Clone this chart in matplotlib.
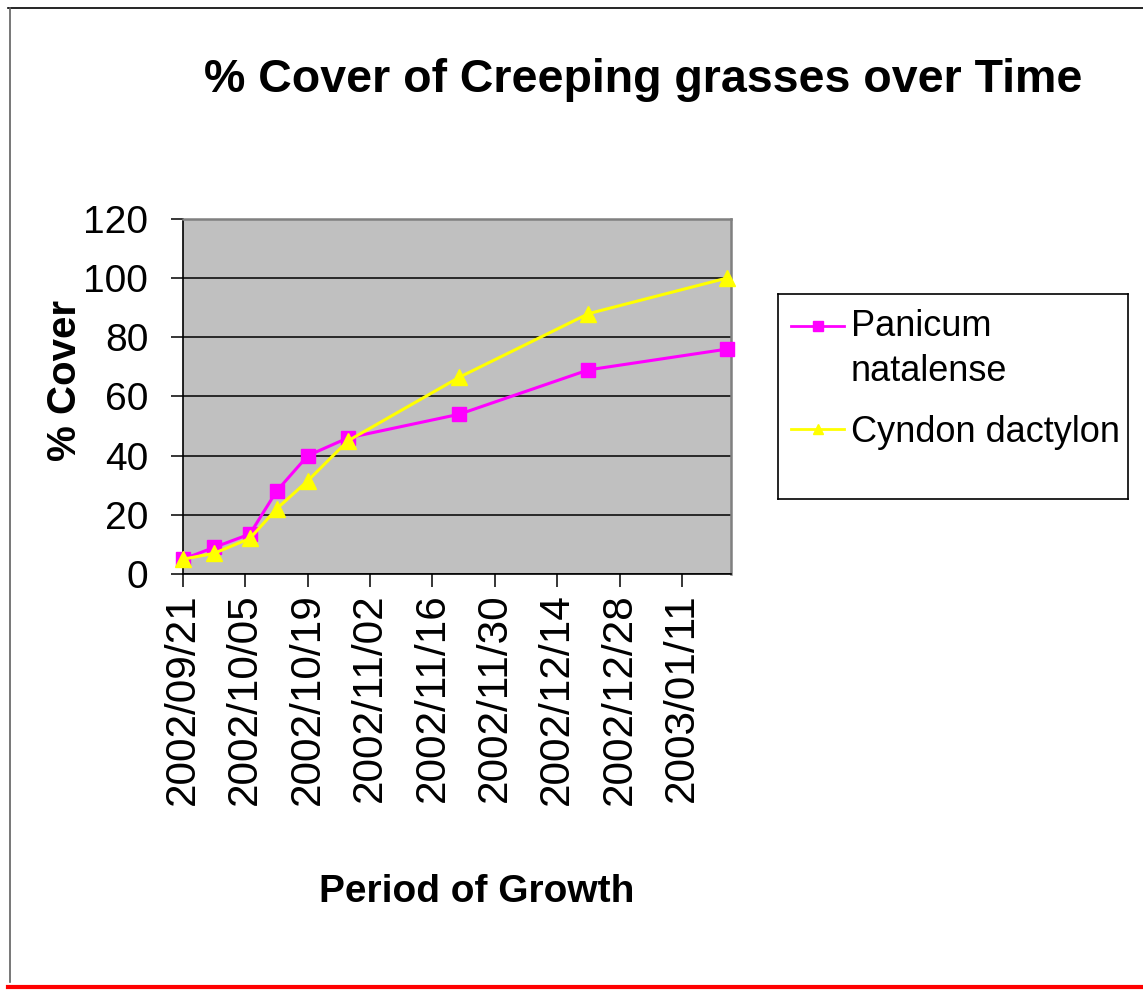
import datetime as dt

import matplotlib
matplotlib.use("Agg")
import matplotlib.pyplot as plt
import matplotlib.dates as mdates
from matplotlib.lines import Line2D

# sampling dates and % cover for the two grasses
dates = ["2002/09/21", "2002/09/28", "2002/10/06", "2002/10/12", "2002/10/19",
         "2002/10/28", "2002/11/22", "2002/12/21", "2003/01/21"]
panicum = [5, 9, 13.5, 28, 40, 46, 54, 69, 76]
cyndon = [5, 7, 12, 22, 31.5, 45, 66.5, 88, 100]

tick_dates = ["2002/09/21", "2002/10/05", "2002/10/19", "2002/11/02", "2002/11/16",
              "2002/11/30", "2002/12/14", "2002/12/28", "2003/01/11"]
x_end = "2003/01/22"
y_ticks = [0, 20, 40, 60, 80, 100, 120]

series = [
    ("Panicum\nnatalense", panicum, "#FF00FF", "s", 10.5),
    ("Cyndon dactylon", cyndon, "#FFFF00", "^", 11),
]


def to_date(s):
    return dt.datetime.strptime(s, "%Y/%m/%d")


plt.rcParams["font.family"] = ["Liberation Sans", "DejaVu Sans"]

W, H = 1143, 996
fig = plt.figure(figsize=(W / 100, H / 100), dpi=100)
ax = fig.add_axes([183 / W, 1 - 574 / H, 548 / W, 355 / H])
ax.set_facecolor("#C0C0C0")

x = [to_date(d) for d in dates]
for label, vals, color, marker, ms in series:
    ax.plot(x, vals, color=color, lw=2.2, marker=marker, ms=ms,
            mec=color, mfc=color, zorder=3, clip_on=False)

ax.set_xlim(to_date(tick_dates[0]), to_date(x_end))
ax.set_ylim(0, 120)
ax.set_yticks(y_ticks)
ax.set_xticks([to_date(d) for d in tick_dates])
ax.xaxis.set_major_formatter(mdates.DateFormatter("%Y/%m/%d"))

ax.grid(axis="y", color="black", lw=1.1)
ax.set_axisbelow(True)
for side in ("left", "bottom"):
    ax.spines[side].set_color("black")
    ax.spines[side].set_linewidth(1.2)
for side in ("top", "right"):
    ax.spines[side].set_color("#808080")
    ax.spines[side].set_linewidth(1.8)

ax.tick_params(axis="y", length=9, width=1.1, pad=16, labelsize=28)
ax.tick_params(axis="x", length=9, width=1.1, pad=5, labelsize=30.5,
               labelrotation=90)

ax.set_ylabel("% Cover", fontsize=29, fontweight="bold")
ax.yaxis.set_label_coords(-0.18, 0.546)
ax.set_xlabel("Period of Growth", fontsize=28, fontweight="bold")
ax.xaxis.set_label_coords(0.5365, -0.846)

fig.text(643 / W, 1 - 92 / H, "% Cover of Creeping grasses over Time",
         fontsize=33.5, fontweight="bold", ha="center", va="baseline")

# legend box drawn in its own pixel-scaled axes
lax = fig.add_axes([778 / W, 1 - 499 / H, 350 / W, 205 / H])
lax.set_xlim(0, 350)
lax.set_ylim(205, 0)
lax.set_xticks([])
lax.set_yticks([])
for sp in lax.spines.values():
    sp.set_color("black")
    sp.set_linewidth(1.2)
for (label, vals, color, marker, ms), hy, ty in zip(series, [32, 135], [42, 148]):
    lax.plot([13, 66], [hy, hy], color=color, lw=2.0)
    lax.plot([39.5], [hy], color=color, marker=marker, ms=ms * 0.62, mec=color,
             mfc=color)
    lines = label.split("\n")
    for k, line in enumerate(lines):
        lax.text(73, ty + 45 * k, line, fontsize=26, va="baseline", ha="left")

# outer frame and red rule at the bottom
fig.add_artist(Line2D([8 / W, 1], [1 - 8 / H, 1 - 8 / H], color="black", lw=1.2))
fig.add_artist(Line2D([10 / W, 10 / W], [1 - 8 / H, 1 - 982 / H], color="#606060", lw=1.2))
fig.add_artist(Line2D([8 / W, 1], [1 - 987 / H, 1 - 987 / H], color="#FF0000", lw=3))

fig.savefig("out.png", dpi=100)
